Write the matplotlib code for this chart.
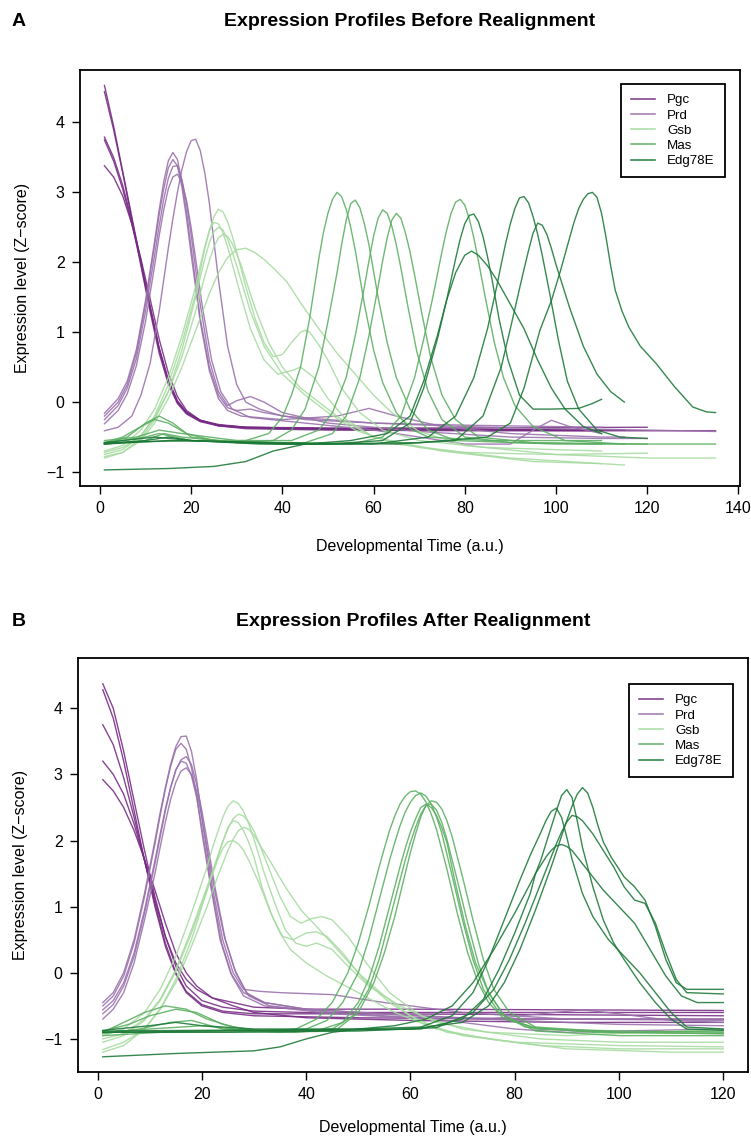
import matplotlib
matplotlib.use("Agg")
import matplotlib.pyplot as plt
from matplotlib.lines import Line2D

plt.rcParams['font.family'] = ['Liberation Sans', 'DejaVu Sans']

genes = ["Pgc", "Prd", "Gsb", "Mas", "Edg78E"]
colors = ["#762A83", "#9970AB", "#A6DBA0", "#5AAE61", "#1B7837"]

# ---- panel A: before realignment, (time, z-score) knots per replicate ----
a_pgc = [
    [(1,4.53),(3,3.95),(5,3.3),(7,2.65),(9,2.0),(11,1.35),(13,0.75),(15,0.3),(17,0.0),(19,-0.15),(22,-0.26),(26,-0.32),(32,-0.36),(50,-0.38),(80,-0.39),(110,-0.4)],
    [(1,4.44),(3,3.9),(5,3.28),(7,2.62),(9,1.95),(11,1.3),(13,0.7),(15,0.26),(17,-0.02),(19,-0.17),(22,-0.28),(26,-0.34),(32,-0.37),(50,-0.39),(80,-0.4),(110,-0.41)],
    [(1,3.79),(3,3.5),(5,3.1),(7,2.6),(9,2.02),(11,1.38),(13,0.78),(15,0.32),(17,0.02),(19,-0.14),(22,-0.26),(26,-0.33),(32,-0.36),(50,-0.38),(80,-0.39),(115,-0.4)],
    [(1,3.75),(3,3.45),(5,3.05),(7,2.55),(9,1.98),(11,1.35),(13,0.76),(15,0.3),(17,0.0),(19,-0.16),(22,-0.27),(26,-0.33),(32,-0.36),(50,-0.37),(80,-0.37),(120,-0.36)],
    [(1,3.38),(3,3.22),(5,2.95),(7,2.55),(9,2.05),(11,1.48),(13,0.9),(15,0.42),(17,0.08),(19,-0.12),(22,-0.26),(26,-0.34),(32,-0.38),(50,-0.4),(80,-0.41),(110,-0.41),(135,-0.41)],
]
a_prd = [
    [(1,-0.16),(4,0.05),(6,0.3),(8,0.75),(10,1.45),(12,2.3),(13,2.75),(14,3.15),(15,3.45),(16,3.57),(17,3.47),(18,3.15),(19,2.72),(20,2.22),(22,1.2),(24,0.5),(26,0.1),(28,-0.08),(30,-0.12),(33,-0.1),(36,-0.15),(45,-0.25),(60,-0.3),(80,-0.33),(100,-0.35),(110,-0.36)],
    [(1,-0.2),(4,0.0),(6,0.25),(8,0.7),(10,1.4),(12,2.25),(13,2.68),(14,3.05),(15,3.35),(16,3.47),(17,3.38),(18,3.07),(19,2.63),(20,2.12),(22,1.15),(24,0.45),(26,0.05),(28,-0.12),(31,-0.2),(40,-0.25),(52,-0.2),(59,-0.09),(65,-0.2),(75,-0.35),(90,-0.45),(110,-0.5),(115,-0.5)],
    [(1,-0.25),(4,-0.05),(6,0.2),(8,0.62),(10,1.3),(12,2.1),(13,2.52),(14,2.9),(15,3.2),(16,3.37),(17,3.38),(18,3.18),(19,2.85),(20,2.4),(22,1.4),(24,0.6),(26,0.15),(28,-0.05),(30,0.02),(33,0.08),(36,0.0),(40,-0.15),(50,-0.3),(70,-0.42),(90,-0.5),(110,-0.52),(120,-0.52)],
    [(1,-0.31),(4,-0.12),(6,0.12),(8,0.52),(10,1.15),(12,1.95),(13,2.38),(14,2.75),(15,3.05),(16,3.22),(17,3.26),(18,3.14),(19,2.88),(20,2.5),(21,2.05),(22.5,1.35),(24.5,0.6),(26.5,0.15),(29,-0.1),(33,-0.22),(45,-0.3),(60,-0.4),(80,-0.6),(90,-0.6),(95,-0.4),(99,-0.26),(103,-0.35),(110,-0.45)],
    [(1,-0.41),(4,-0.36),(7,-0.2),(9,0.1),(11,0.55),(13,1.3),(15,2.2),(16,2.62),(17,3.0),(18,3.33),(19,3.58),(20,3.74),(21,3.76),(22,3.6),(23,3.28),(24,2.85),(25,2.3),(26,1.75),(28,0.8),(30,0.25),(32,0.0),(35,-0.1),(40,-0.2),(60,-0.3),(80,-0.35),(100,-0.38),(120,-0.4),(135,-0.42)],
]
a_gsb = [
    [(1,-0.7),(5,-0.62),(9,-0.4),(12,-0.1),(15,0.35),(18,0.95),(21,1.65),(22,1.95),(23,2.22),(24,2.45),(25,2.65),(26,2.76),(27,2.72),(28,2.58),(29,2.38),(30,2.15),(32,1.65),(34,1.2),(36,0.85),(38,0.65),(40,0.68),(42,0.85),(44,1.0),(45,1.03),(46,1.0),(48,0.82),(50,0.6),(53,0.2),(57,-0.15),(62,-0.4),(70,-0.55),(85,-0.65),(110,-0.7)],
    [(1,-0.75),(5,-0.68),(9,-0.48),(12,-0.2),(15,0.25),(18,0.85),(21,1.55),(22,1.88),(23,2.2),(24,2.45),(25,2.57),(26,2.55),(27,2.42),(28,2.22),(29,1.98),(31,1.5),(33,1.05),(36,0.6),(39,0.4),(42,0.45),(44,0.5),(47,0.35),(50,0.05),(54,-0.25),(60,-0.5),(70,-0.65),(90,-0.8),(115,-0.9)],
    [(1,-0.8),(5,-0.72),(9,-0.52),(12,-0.25),(15,0.15),(18,0.75),(21,1.5),(22,1.78),(23,2.05),(24,2.28),(25,2.44),(26,2.5),(27,2.46),(28,2.33),(29,2.15),(30,1.95),(33,1.3),(36,0.8),(40,0.4),(45,0.1),(50,-0.15),(56,-0.4),(65,-0.6),(80,-0.72),(100,-0.75),(120,-0.73)],
    [(1,-0.72),(5,-0.65),(9,-0.48),(12,-0.22),(15,0.15),(18,0.65),(21,1.3),(22,1.55),(23,1.8),(24,2.02),(25,2.22),(26,2.35),(27,2.4),(28,2.37),(29,2.27),(30,2.12),(31,1.95),(34,1.35),(37,0.85),(40,0.5),(44,0.2),(48,0.0),(53,-0.25),(60,-0.5),(75,-0.7),(95,-0.85),(110,-0.88)],
    [(1,-0.78),(5,-0.72),(9,-0.55),(12,-0.3),(15,0.05),(18,0.5),(20,0.85),(22,1.2),(24,1.55),(26,1.85),(28,2.07),(30,2.18),(32,2.2),(34,2.14),(36,2.04),(38,1.92),(41,1.72),(44,1.42),(48,1.05),(52,0.7),(56,0.4),(60,0.1),(64,-0.15),(70,-0.42),(80,-0.62),(100,-0.75),(120,-0.8),(135,-0.8)],
]
a_mas = [
    [(1,-0.58),(5,-0.5),(9,-0.35),(12,-0.25),(15,-0.3),(19,-0.45),(25,-0.55),(32,-0.55),(37,-0.45),(40,-0.22),(42,0.1),(44,0.5),(46,1.2),(48,2.05),(49,2.42),(50,2.7),(51,2.9),(52,3.0),(53,2.94),(54,2.76),(55,2.5),(56,2.17),(58,1.4),(60,0.75),(62,0.28),(65,-0.15),(68,-0.38),(72,-0.5),(85,-0.55),(110,-0.55)],
    [(1,-0.6),(6,-0.5),(10,-0.3),(13,-0.2),(16,-0.3),(20,-0.5),(30,-0.58),(38,-0.55),(42,-0.4),(45,-0.1),(48,0.5),(50,1.15),(51,1.5),(52,1.85),(53,2.25),(54,2.6),(55,2.84),(56,2.89),(57,2.78),(58,2.55),(59,2.25),(61,1.5),(63,0.85),(65,0.35),(68,-0.1),(72,-0.4),(78,-0.55),(100,-0.6),(115,-0.6)],
    [(1,-0.55),(8,-0.5),(13,-0.4),(18,-0.45),(30,-0.55),(42,-0.55),(48,-0.4),(51,-0.15),(54,0.35),(56,0.95),(58,1.65),(59,2.02),(60,2.37),(61,2.63),(62,2.75),(63,2.7),(64,2.52),(65,2.25),(66,1.92),(67.5,1.38),(69.5,0.72),(72,0.15),(75,-0.25),(80,-0.5),(90,-0.58),(120,-0.6)],
    [(1,-0.6),(10,-0.55),(14,-0.45),(18,-0.5),(30,-0.58),(45,-0.58),(51,-0.45),(54,-0.2),(57,0.35),(59,0.95),(61,1.65),(62,2.02),(63,2.35),(64,2.6),(65,2.7),(66,2.63),(67,2.42),(68,2.15),(69,1.82),(70.5,1.3),(72.5,0.65),(75,0.1),(78,-0.25),(83,-0.5),(95,-0.58),(110,-0.6)],
    [(1,-0.58),(10,-0.5),(13,-0.45),(20,-0.55),(40,-0.6),(55,-0.6),(62,-0.5),(66,-0.2),(69,0.35),(71,0.9),(73,1.5),(75,2.15),(76,2.45),(77,2.7),(78,2.86),(79,2.9),(80,2.82),(81,2.62),(82,2.35),(83,2.02),(84.5,1.5),(86.5,0.85),(88.5,0.35),(91,-0.05),(95,-0.35),(102,-0.55),(115,-0.6),(135,-0.6)],
]
a_edg = [
    [(1,-0.97),(15,-0.95),(25,-0.92),(32,-0.85),(38,-0.7),(45,-0.6),(55,-0.55),(63,-0.45),(68,-0.2),(71,0.3),(74,0.95),(76,1.45),(78,1.85),(80,2.1),(81.5,2.16),(83,2.1),(85,1.95),(87,1.75),(90,1.4),(93,1.05),(96,0.6),(99,0.2),(102,-0.1),(106,-0.35),(110,-0.45)],
    [(1,-0.6),(10,-0.55),(15,-0.5),(20,-0.55),(35,-0.6),(50,-0.6),(62,-0.55),(68,-0.3),(71,0.2),(74,0.9),(76,1.45),(77,1.75),(78,2.05),(79,2.33),(80,2.55),(81,2.67),(82,2.69),(83,2.58),(84,2.37),(85,2.08),(86,1.75),(87.5,1.2),(89.5,0.6),(92,0.1),(95,-0.1),(99,-0.1),(105,-0.09),(108,-0.02),(110,0.04)],
    [(1,-0.58),(12,-0.5),(20,-0.55),(40,-0.6),(60,-0.6),(72,-0.5),(78,-0.2),(82,0.35),(85,1.05),(87,1.65),(88,1.97),(89,2.28),(90,2.55),(91,2.77),(92,2.92),(93,2.94),(94,2.85),(95,2.65),(96,2.4),(97,2.1),(98.5,1.6),(100.5,0.9),(102.5,0.3),(105,-0.1),(109,-0.4),(114,-0.5),(120,-0.52)],
    [(1,-0.6),(15,-0.55),(40,-0.58),(65,-0.6),(78,-0.55),(84,-0.2),(88,0.5),(90,1.05),(92,1.62),(93,1.9),(94,2.17),(95,2.42),(96,2.56),(97,2.53),(98,2.4),(99,2.2),(100,1.97),(103,1.35),(106,0.8),(109,0.4),(112,0.15),(115,0.0)],
    [(1,-0.58),(20,-0.55),(45,-0.6),(70,-0.58),(85,-0.5),(90,-0.3),(93,0.2),(96.5,1.03),(99,1.45),(101,1.88),(103,2.35),(104,2.58),(105,2.77),(106,2.9),(107,2.98),(108,3.0),(109,2.93),(110,2.7),(111,2.35),(112,1.95),(113,1.6),(114.5,1.3),(116,1.07),(118.5,0.8),(122,0.55),(126,0.22),(130,-0.07),(133,-0.14),(135,-0.15)],
]

# ---- panel B: after realignment ----
b_pgc = [
    [(1,4.37),(3,4.0),(5,3.35),(7,2.6),(9,1.85),(11,1.15),(13,0.55),(15,0.1),(17,-0.2),(20,-0.42),(24,-0.52),(30,-0.58),(40,-0.6),(60,-0.6),(90,-0.6),(120,-0.6)],
    [(1,4.28),(3,3.85),(5,3.2),(7,2.45),(9,1.7),(11,1.0),(13,0.4),(15,-0.02),(17,-0.3),(20,-0.5),(24,-0.6),(30,-0.65),(50,-0.68),(80,-0.7),(120,-0.7)],
    [(1,3.75),(3,3.45),(5,2.95),(7,2.35),(9,1.7),(11,1.05),(13,0.45),(15,0.0),(17,-0.28),(20,-0.48),(24,-0.58),(30,-0.62),(50,-0.62),(80,-0.63),(120,-0.65)],
    [(1,3.2),(3,3.0),(5,2.7),(7,2.25),(9,1.7),(11,1.1),(13,0.55),(15,0.15),(17,-0.1),(19,-0.25),(22,-0.38),(26,-0.45),(30,-0.52),(40,-0.55),(60,-0.55),(90,-0.56),(120,-0.57)],
    [(1,2.92),(3,2.75),(5,2.5),(7,2.15),(9,1.72),(11,1.25),(13,0.75),(15,0.3),(17,0.0),(19,-0.2),(22,-0.38),(26,-0.5),(30,-0.6),(40,-0.68),(60,-0.72),(90,-0.75),(120,-0.75)],
]
b_prd = [
    [(1,-0.45),(3,-0.3),(5,0.0),(7,0.5),(9,1.2),(11,2.0),(12,2.42),(13,2.8),(14,3.15),(15,3.42),(16,3.57),(17,3.58),(18,3.35),(19,2.92),(20,2.35),(22,1.3),(24,0.5),(26,0.0),(28,-0.25),(31,-0.28),(35,-0.3),(45,-0.33),(55,-0.45),(70,-0.6),(90,-0.7),(120,-0.72)],
    [(1,-0.5),(3,-0.35),(5,-0.05),(7,0.45),(9,1.15),(11,1.95),(12,2.38),(13,2.78),(14,3.12),(15,3.38),(16,3.47),(17,3.38),(18,3.1),(19,2.68),(20,2.12),(21.5,1.4),(23.5,0.5),(25.5,0.0),(28,-0.3),(32,-0.45),(40,-0.55),(60,-0.65),(80,-0.72),(100,-0.78),(120,-0.8)],
    [(1,-0.56),(3,-0.42),(5,-0.15),(7,0.3),(9,0.95),(11,1.7),(12,2.1),(13,2.48),(14,2.8),(15,3.06),(16,3.22),(17,3.27),(18,3.15),(19,2.85),(20,2.45),(21,2.0),(22.5,1.3),(24.5,0.5),(26.5,0.0),(29,-0.35),(33,-0.5),(45,-0.6),(65,-0.7),(80,-0.85),(90,-0.9),(100,-0.88),(120,-0.85)],
    [(1,-0.62),(3,-0.48),(5,-0.2),(7,0.25),(9,0.9),(11,1.65),(12,2.05),(13,2.45),(14,2.8),(15,3.07),(16,3.2),(17,3.17),(18,2.98),(19,2.65),(20,2.2),(21.8,1.3),(23.8,0.45),(25.8,-0.05),(28,-0.35),(32,-0.5),(45,-0.62),(60,-0.68),(75,-0.7),(85,-0.62),(93,-0.56),(100,-0.62),(110,-0.72),(120,-0.75)],
    [(1,-0.7),(3,-0.55),(5,-0.3),(7,0.15),(9,0.8),(11,1.5),(12,1.9),(13,2.28),(14,2.62),(15,2.88),(16,3.05),(17,3.1),(18,3.0),(19,2.75),(20,2.35),(22.3,1.3),(24.3,0.55),(26.3,0.05),(28.5,-0.3),(32,-0.45),(40,-0.55),(55,-0.62),(70,-0.68),(90,-0.7),(120,-0.7)],
]
b_gsb = [
    [(1,-0.95),(5,-0.85),(9,-0.6),(12,-0.25),(15,0.25),(18,0.9),(21,1.6),(22,1.88),(23,2.12),(24,2.35),(25,2.52),(26,2.6),(27,2.56),(28,2.44),(29,2.25),(30,2.02),(32,1.5),(34,1.05),(36,0.65),(38,0.45),(40,0.4),(42,0.45),(45,0.35),(48,0.1),(52,-0.2),(58,-0.5),(65,-0.75),(75,-0.9),(90,-0.95),(105,-0.9),(120,-0.85)],
    [(1,-1.0),(5,-0.92),(9,-0.7),(12,-0.4),(15,0.05),(18,0.65),(21,1.3),(22,1.52),(23,1.75),(24,1.98),(25,2.18),(26,2.33),(27,2.4),(28,2.37),(29,2.28),(30,2.14),(31,1.96),(33,1.55),(35,1.15),(37,0.85),(39,0.75),(41,0.82),(43,0.85),(45,0.8),(48,0.55),(52,0.1),(56,-0.3),(62,-0.65),(70,-0.85),(85,-1.0),(100,-1.05),(120,-1.05)],
    [(1,-1.05),(5,-0.95),(9,-0.72),(12,-0.42),(15,0.02),(18,0.6),(21,1.25),(22,1.5),(23,1.75),(24,1.98),(25,2.2),(26,2.3),(27,2.27),(28,2.15),(29,1.97),(30,1.75),(31.5,1.3),(33.5,0.85),(35.5,0.55),(37.5,0.5),(40,0.6),(42,0.62),(44,0.55),(47,0.3),(51,-0.1),(56,-0.45),(62,-0.75),(70,-0.95),(85,-1.1),(100,-1.15),(120,-1.15)],
    [(1,-1.16),(5,-1.05),(9,-0.85),(12,-0.55),(15,-0.15),(18,0.4),(21,1.0),(23,1.45),(25,1.85),(26,2.02),(27,2.15),(28,2.2),(29,2.17),(30,2.08),(31,1.95),(33,1.7),(36,1.3),(39,0.95),(42,0.7),(46,0.35),(50,0.0),(55,-0.35),(60,-0.65),(67,-0.9),(80,-1.05),(100,-1.1),(120,-1.12)],
    [(1,-1.2),(5,-1.1),(9,-0.85),(12,-0.55),(15,-0.1),(18,0.5),(21,1.25),(22,1.48),(23,1.7),(24,1.88),(25,1.98),(26,2.0),(27,1.95),(28,1.85),(29,1.7),(31,1.35),(33,0.95),(35,0.6),(37,0.35),(40,0.15),(44,-0.05),(50,-0.3),(57,-0.6),(65,-0.85),(75,-1.0),(90,-1.15),(110,-1.2),(120,-1.2)],
]
b_mas = [
    [(1,-0.9),(5,-0.75),(9,-0.6),(13,-0.5),(17,-0.55),(21,-0.7),(26,-0.82),(32,-0.88),(38,-0.85),(42,-0.7),(45,-0.45),(48,0.0),(50,0.45),(52,1.0),(54,1.6),(55,1.88),(56,2.15),(57,2.37),(58,2.55),(59,2.67),(60,2.74),(61,2.75),(62,2.7),(63,2.58),(64,2.4),(65,2.17),(67,1.57),(69,0.9),(71,0.3),(73,-0.15),(75,-0.45),(78,-0.7),(85,-0.85),(100,-0.88),(120,-0.9)],
    [(1,-0.88),(6,-0.78),(10,-0.65),(15,-0.55),(19,-0.6),(24,-0.78),(30,-0.88),(40,-0.85),(44,-0.72),(47,-0.45),(50,0.0),(52,0.5),(54,1.1),(56,1.7),(57,1.97),(58,2.22),(59,2.43),(60,2.58),(61,2.68),(62,2.72),(63,2.67),(64,2.55),(65,2.36),(66,2.12),(68,1.47),(70,0.8),(72,0.2),(74,-0.25),(77,-0.6),(82,-0.82),(95,-0.9),(120,-0.92)],
    [(1,-0.92),(8,-0.85),(14,-0.75),(18,-0.72),(24,-0.85),(35,-0.9),(45,-0.85),(49,-0.65),(52,-0.25),(54,0.2),(56,0.8),(58,1.4),(59,1.7),(60,1.97),(61,2.2),(62,2.4),(63,2.53),(64,2.6),(65,2.58),(66,2.48),(67,2.3),(68,2.06),(70,1.45),(72,0.8),(74,0.2),(76,-0.25),(79,-0.6),(84,-0.82),(100,-0.9),(120,-0.92)],
    [(1,-0.9),(10,-0.85),(20,-0.8),(30,-0.88),(42,-0.88),(47,-0.75),(50,-0.45),(52,-0.1),(54,0.4),(56,1.0),(58,1.6),(59,1.88),(60,2.13),(61,2.33),(62,2.5),(63,2.55),(64,2.5),(65,2.38),(66,2.2),(67,1.97),(68.5,1.4),(70.5,0.72),(72.5,0.15),(75,-0.3),(78,-0.65),(84,-0.85),(100,-0.9),(120,-0.88)],
    [(1,-0.95),(12,-0.9),(25,-0.88),(38,-0.9),(46,-0.85),(50,-0.6),(53,-0.15),(55,0.3),(57,0.85),(59,1.5),(60,1.82),(61,2.1),(62,2.36),(63,2.53),(64,2.55),(65,2.46),(66,2.28),(67,2.02),(69,1.4),(71,0.75),(73,0.15),(75,-0.3),(78,-0.65),(84,-0.88),(100,-0.95),(120,-0.95)],
]
b_edg = [
    [(1,-0.88),(20,-0.87),(40,-0.86),(60,-0.85),(70,-0.75),(75,-0.5),(78,-0.15),(81,0.35),(84,0.95),(87,1.6),(88,1.83),(89,2.07),(90,2.3),(91,2.52),(92,2.7),(93,2.8),(94,2.72),(95,2.5),(96,2.22),(97,1.98),(98.5,1.75),(101,1.45),(103,1.3),(105,1.1),(107,0.7),(109,0.2),(111,-0.15),(113,-0.25),(120,-0.25)],
    [(1,-0.9),(20,-0.88),(45,-0.87),(62,-0.85),(70,-0.7),(74,-0.4),(77,0.05),(80,0.6),(83,1.2),(84,1.5),(85,1.7),(86,1.95),(87,2.2),(88,2.45),(89,2.68),(90,2.77),(91,2.65),(92,2.3),(93,1.9),(95,1.3),(97,0.8),(99,0.45),(101,0.2),(104,-0.15),(107,-0.45),(110,-0.7),(113,-0.85),(120,-0.87)],
    [(1,-0.87),(10,-0.8),(15,-0.75),(20,-0.8),(30,-0.85),(50,-0.85),(62,-0.82),(68,-0.65),(72,-0.3),(75,0.2),(78,0.8),(81,1.4),(83,1.78),(84,1.95),(85,2.12),(86,2.3),(87,2.44),(88,2.49),(89,2.35),(90,2.05),(91,1.72),(93,1.2),(95,0.85),(98,0.5),(101,0.25),(104,0.0),(107,-0.3),(110,-0.6),(113,-0.82),(120,-0.85)],
    [(1,-0.9),(25,-0.9),(50,-0.88),(65,-0.83),(72,-0.6),(76,-0.25),(79,0.2),(82,0.75),(85,1.35),(86,1.55),(87,1.75),(88,1.95),(89,2.13),(90,2.28),(91,2.38),(92,2.36),(93,2.3),(95,2.1),(97,1.85),(99,1.6),(101,1.3),(103,1.1),(105,1.05),(107,0.75),(109,0.3),(111,-0.1),(113,-0.3),(120,-0.32)],
    [(1,-1.27),(15,-1.22),(30,-1.18),(35,-1.12),(40,-1.0),(45,-0.9),(50,-0.85),(57,-0.8),(63,-0.7),(68,-0.5),(72,-0.15),(76,0.35),(80,0.9),(84,1.5),(86,1.75),(87,1.85),(88,1.92),(89,1.94),(90,1.91),(91,1.85),(94,1.55),(97,1.25),(100,1.0),(103,0.75),(106,0.35),(109,-0.05),(112,-0.35),(115,-0.45),(120,-0.45)],
]

panel_a = [a_pgc, a_prd, a_gsb, a_mas, a_edg]
panel_b = [b_pgc, b_prd, b_gsb, b_mas, b_edg]

W, H = 751, 1143
fig = plt.figure(figsize=(W / 100, H / 100), dpi=100)


def add_box(l, t, r, b):
    return fig.add_axes([l / W, 1 - b / H, (r - l) / W, (b - t) / H])


def draw_panel(ax, groups, xmax, xticks, ylims, title, letter, title_y, leg_xy, xpad):
    for gi, curves in enumerate(groups):
        for c in curves:
            ts = [p[0] for p in c]
            vs = [p[1] for p in c]
            ax.plot(ts, vs, color=colors[gi], lw=1.0, alpha=0.88)
    pad = 0.04 * (xmax - 1)
    ax.set_xlim(1 - pad, xmax + pad)
    ax.set_ylim(*ylims)
    ax.set_xticks(xticks)
    ax.set_yticks([-1, 0, 1, 2, 3, 4])
    ax.set_yticklabels(["\u22121", "0", "1", "2", "3", "4"])
    ax.tick_params(direction="out", length=6, width=1, labelsize=11.5, pad=5)
    for s in ax.spines.values():
        s.set_linewidth(1.3)
    ax.set_xlabel("Developmental Time (a.u.)", fontsize=11.5, labelpad=xpad)
    ax.set_ylabel("Expression level (Z\u2212score)", fontsize=11.5, labelpad=12)
    handles = [Line2D([], [], color=colors[i], lw=1.2, alpha=0.88) for i in range(5)]
    leg = ax.legend(handles, genes, loc="upper right", fontsize=9.6,
                    frameon=True, fancybox=False, edgecolor="black",
                    framealpha=1, handlelength=1.8, handletextpad=0.95,
                    borderpad=0.75, labelspacing=0.22, borderaxespad=0,
                    bbox_to_anchor=(leg_xy[0] / W, 1 - leg_xy[1] / H),
                    bbox_transform=fig.transFigure)
    leg.get_frame().set_linewidth(1.3)
    pos = ax.get_position()
    cx = (pos.x0 + pos.x1) / 2
    fig.text(cx, 1 - title_y / H, title, ha="center", va="center",
             fontsize=14, fontweight="bold")
    fig.text(12 / W, 1 - title_y / H, letter, ha="left", va="center",
             fontsize=14, fontweight="bold")


ax_a = add_box(80, 70, 740, 486)
draw_panel(ax_a, panel_a, 135, range(0, 141, 20), (-1.2, 4.75),
           "Expression Profiles Before Realignment", "A", 21, (725, 84), 16)

ax_b = add_box(78, 658, 748, 1072)
draw_panel(ax_b, panel_b, 120, range(0, 121, 20), (-1.5, 4.76),
           "Expression Profiles After Realignment", "B", 621, (733, 684), 13)

fig.savefig("out.png", dpi=100)
